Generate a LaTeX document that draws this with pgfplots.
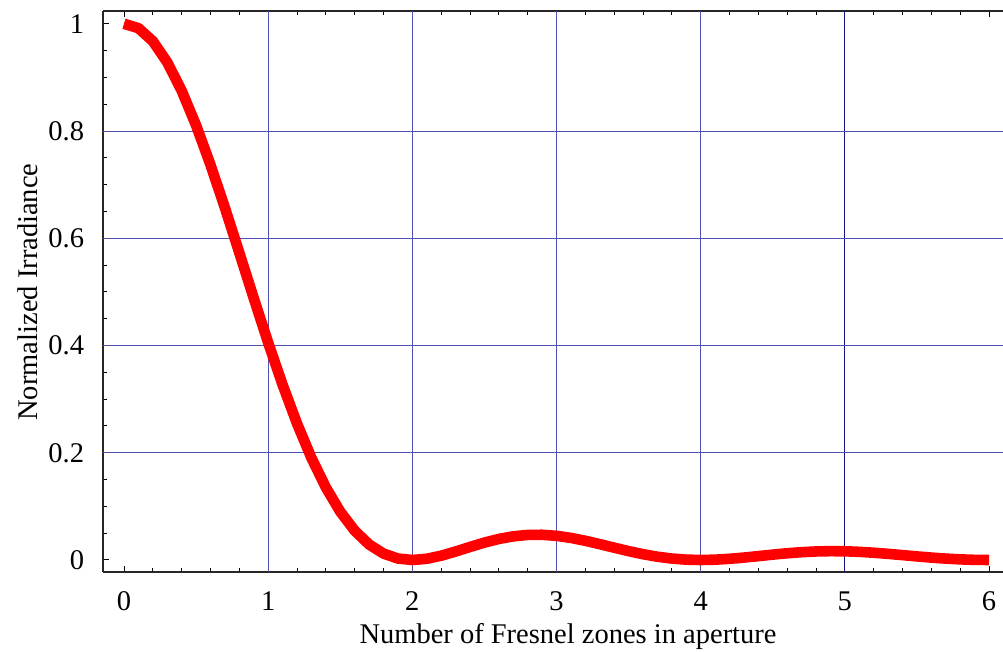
\documentclass[border=0pt]{standalone}
\usepackage{fontspec}
\setmainfont{Liberation Serif}
\usepackage{pgfplots}
\pgfplotsset{compat=1.18}
\definecolor{gridblue}{RGB}{80,80,175}
\definecolor{navyline}{RGB}{20,20,130}
\begin{document}
\fontsize{14.3}{17}\selectfont
\begin{tikzpicture}
\useasboundingbox (-51.5bp,-40bp) rectangle (450bp,286bp);
\begin{axis}[
  at={(0,0)}, anchor=south west,
  scale only axis, width=450bp, height=280.5bp,
  xmin=-0.1457, xmax=6.0971, ymin=-0.0224, ymax=1.0238,
  axis x line*=box, axis y line*=left,
  xtick={0,1,2,3,4,5,6}, ytick={0,0.2,0.4,0.6,0.8,1},
  minor x tick num=4, minor y tick num=3,
  tick align=inside, major tick length=3bp, minor tick length=2bp,
  tick style={black, line width=0.5bp},
  axis line style={black!85, line width=0.6bp},
  /pgf/number format/assume math mode=true,
  ticklabel style={font=\fontsize{14.3}{17}\selectfont},
  xticklabel style={yshift=-5bp},
  yticklabel style={xshift=-4.5bp},
  label style={font=\fontsize{14.3}{17}\selectfont},
  xlabel={Number of Fresnel zones in aperture},
  ylabel={Normalized Irradiance},
  xlabel style={at={(axis description cs:0.5167,0)}, anchor=center, yshift=-32bp},
  ylabel style={at={(axis description cs:0,0.499)}, anchor=center, yshift=37.5bp},
]
% grid lines
\draw[gridblue, line width=0.5bp] (axis cs:1,-0.0224) -- (axis cs:1,1.0238);
\draw[gridblue, line width=0.5bp] (axis cs:2,-0.0224) -- (axis cs:2,1.0238);
\draw[gridblue, line width=0.5bp] (axis cs:3,-0.0224) -- (axis cs:3,1.0238);
\draw[gridblue, line width=0.5bp] (axis cs:4,-0.0224) -- (axis cs:4,1.0238);
\draw[navyline, line width=0.5bp] (axis cs:5,-0.0224) -- (axis cs:5,1.0238);
\draw[gridblue, line width=0.5bp] (axis cs:-0.1457,0.2) -- (axis cs:6.0971,0.2);
\draw[gridblue, line width=0.5bp] (axis cs:-0.1457,0.4) -- (axis cs:6.0971,0.4);
\draw[gridblue, line width=0.5bp] (axis cs:-0.1457,0.6) -- (axis cs:6.0971,0.6);
\draw[gridblue, line width=0.5bp] (axis cs:-0.1457,0.8) -- (axis cs:6.0971,0.8);
% irradiance curve
\addplot[red, line width=5.3bp, line cap=butt, line join=round] coordinates {
(0.0,1.00000) (0.1,0.99180) (0.2,0.96753) (0.3,0.92813) (0.4,0.87514)
(0.5,0.81057) (0.6,0.73684) (0.7,0.65663) (0.8,0.57279) (0.9,0.48810)
(1.0,0.40528) (1.1,0.32675) (1.2,0.25457) (1.3,0.19039) (1.4,0.13534)
(1.5,0.09006) (1.6,0.05470) (1.7,0.02890) (1.8,0.01194) (1.9,0.00275)
(2.0,0.00000) (2.1,0.00225) (2.2,0.00800) (2.3,0.01579) (2.4,0.02431)
(2.5,0.03242) (2.6,0.03924) (2.7,0.04414) (2.8,0.04676) (2.9,0.04701)
(3.0,0.04503) (3.1,0.04114) (3.2,0.03580) (3.3,0.02955) (3.4,0.02295)
(3.5,0.01654) (3.6,0.01080) (3.7,0.00610) (3.8,0.00268) (3.9,0.00065)
(4.0,0.00000) (4.1,0.00059) (4.2,0.00219) (4.3,0.00452) (4.4,0.00723)
(4.5,0.01001) (4.6,0.01254) (4.7,0.01457) (4.8,0.01591) (4.9,0.01647)
(5.0,0.01621) (5.1,0.01520) (5.2,0.01356) (5.3,0.01145) (5.4,0.00910)
(5.5,0.00670) (5.6,0.00447) (5.7,0.00257) (5.8,0.00115) (5.9,0.00028)
(6.0,0.00000)
};
\end{axis}
\end{tikzpicture}
\end{document}
